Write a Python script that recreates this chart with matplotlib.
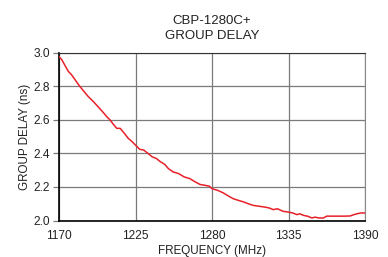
import matplotlib
matplotlib.use("Agg")
import matplotlib.pyplot as plt

# group delay curve
freq_mhz = [1170, 1172, 1174, 1176.7, 1179, 1182, 1185, 1188, 1191, 1194.7,
            1198, 1201.8, 1204.3, 1206.7, 1209, 1211.5, 1214, 1217, 1219.8,
            1222, 1225, 1228, 1231, 1234, 1237, 1240, 1243, 1246, 1248.6,
            1252, 1256, 1260, 1264, 1268, 1271.4, 1275, 1278, 1280, 1284,
            1288, 1292, 1295.3, 1299, 1303, 1306, 1309.7, 1314, 1318, 1321,
            1324, 1327, 1331, 1335, 1338, 1340.9, 1343, 1346, 1349, 1351.7,
            1354, 1357, 1360, 1362.4, 1366, 1370, 1375, 1379.2, 1382, 1384,
            1387, 1390]
delay_ns = [2.978, 2.96, 2.93, 2.89, 2.87, 2.835, 2.80, 2.77, 2.74, 2.71,
            2.68, 2.645, 2.62, 2.60, 2.575, 2.55, 2.55, 2.52, 2.49,
            2.475, 2.45, 2.425, 2.42, 2.40, 2.38, 2.37, 2.35, 2.335, 2.31,
            2.29, 2.28, 2.26, 2.25, 2.23, 2.215, 2.21, 2.205, 2.19, 2.18,
            2.165, 2.145, 2.13, 2.12, 2.11, 2.10, 2.09, 2.085, 2.08, 2.075,
            2.065, 2.07, 2.055, 2.05, 2.045, 2.035, 2.04, 2.03, 2.025, 2.015,
            2.02, 2.015, 2.015, 2.026, 2.026, 2.026, 2.026, 2.027, 2.035, 2.04,
            2.045, 2.045]

x_ticks = [1170, 1225, 1280, 1335, 1390]
y_ticks = [2.0, 2.2, 2.4, 2.6, 2.8, 3.0]

plt.rcParams['font.family'] = ['Liberation Sans', 'DejaVu Sans']
plt.rcParams['font.size'] = 8

fig = plt.figure(figsize=(3.88, 2.57), dpi=100)
ax = fig.add_axes([0.152, 0.142, 0.789, 0.652])

ax.plot(freq_mhz, delay_ns, color='#e8202a', lw=1.1, zorder=3)

ax.set_xlim(1170, 1390)
ax.set_ylim(2.0, 3.0)
ax.set_xticks(x_ticks)
ax.set_yticks(y_ticks)
ax.set_yticklabels([f"{v:.1f}" for v in y_ticks])
ax.tick_params(colors='#222222', labelsize=8.6)
ax.tick_params(axis='x', length=0, pad=7)
ax.tick_params(axis='y', length=4.3, width=0.9, color='#7a7a7a', pad=2)
ax.grid(True, color='#7a7a7a', lw=0.9)

ax.spines['left'].set_color('black')
ax.spines['bottom'].set_color('black')
ax.spines['left'].set_linewidth(1.2)
ax.spines['bottom'].set_linewidth(1.2)
ax.spines['top'].set_color('#333333')
ax.spines['right'].set_color('#888888')

ax.set_xlabel("FREQUENCY (MHz)", fontsize=8.4, labelpad=2, color='#222222')
ax.set_ylabel("GROUP DELAY (ns)", fontsize=8.4, labelpad=2, color='#222222')
ax.set_title("CBP-1280C+\nGROUP DELAY", fontsize=9.5, pad=10, color='#222222',
             linespacing=1.35)

fig.savefig("out.png", dpi=100)
